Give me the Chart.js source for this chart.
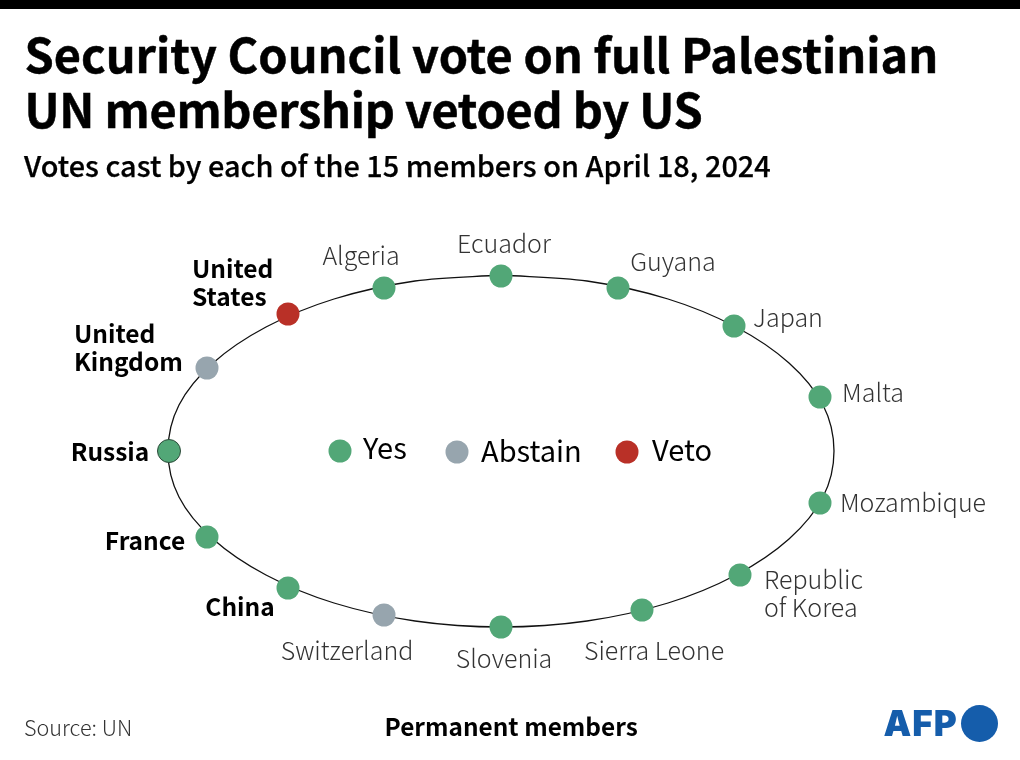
<!DOCTYPE html>
<html>
<head>
<meta charset="utf-8">
<script src="https://cdn.jsdelivr.net/npm/chart.js@4"></script>
<style>
html, body { margin: 0; padding: 0; background: #fff; }
body { width: 1020px; height: 760px; position: relative; overflow: hidden; font-family: "Noto Sans CJK JP", "Noto Sans", sans-serif; color: #000; }
#chart { position: absolute; left: 0; top: 0; }
.bar { position: absolute; left: 0; top: 0; width: 1020px; height: 9px; background: #000; }
.txt { position: absolute; white-space: nowrap; }
#title { left: 24.5px; top: 26px; font-size: 46.9px; line-height: 55px; font-weight: 700; -webkit-text-stroke: 0.5px #000; }
#title span { letter-spacing: -0.27px; }
#subtitle { left: 24px; top: 145px; font-size: 28.9px; line-height: 38px; font-weight: 500; -webkit-text-stroke: 0.25px #000; }
#source { left: 24px; top: 712px; font-size: 21.6px; line-height: 30px; font-weight: 300; color: #333; }
#note { left: 384.5px; top: 709px; font-size: 24.4px; line-height: 34px; font-weight: 700; }
#afp { left: 883.5px; top: 698px; font-family: "Inter", sans-serif; font-size: 35px; line-height: 50px; font-weight: 900; letter-spacing: 1px; color: #155dab; }
#afpDot { position: absolute; left: 961px; top: 705px; width: 37px; height: 37px; border-radius: 50%; background: #155dab; }
</style>
</head>
<body>
<canvas id="chart" width="1020" height="760"></canvas>
<div class="bar"></div>
<div class="txt" id="title">Security Council vote on full Palestinian<br><span>UN membership vetoed by US</span></div>
<div class="txt" id="subtitle">Votes cast by each of the 15 members on April 18, 2024</div>
<div class="txt" id="source">Source: UN</div>
<div class="txt" id="note">Permanent members</div>
<div class="txt" id="afp">AFP</div>
<div id="afpDot"></div>
<script>
// seats clockwise from the top, measured from the centre of the ring
const seatNames = ["Ecuador", "Guyana", "Japan", "Malta", "Mozambique", "Republic\nof Korea", "Sierra Leone", "Slovenia", "Switzerland", "China", "France", "Russia", "United\nKingdom", "United\nStates", "Algeria"];
const seatVotes = ["Yes", "Yes", "Yes", "Yes", "Yes", "Yes", "Yes", "Yes", "Abstain", "Yes", "Yes", "Yes", "Abstain", "Veto", "Yes"];
const seatX = [0, 117, 233, 319, 319, 239, 141, 0, -117, -213, -294, -332, -294, -213, -117];
const seatY = [175, 163, 125, 54, -52, -124, -159, -176, -164, -137, -86, 0, 83, 137, 163];
const permanentMembers = ["China", "France", "Russia", "United\nKingdom", "United\nStates"];

// outline of the ring, clockwise from the top
const ringX = [0, 86, 167, 235, 288, 322, 333, 322, 288, 235, 167, 86, 0, -86, -167, -235, -288, -322, -333, -322, -288, -235, -167, -86, 0];
const ringY = [176, 170, 152, 124, 88, 46, 0, -46, -88, -124, -152, -170, -176, -170, -152, -124, -88, -46, 0, 46, 88, 124, 152, 170, 176];

const voteNames = ["Yes", "Abstain", "Veto"];
const voteColors = ["#52a777", "#97a5ae", "#b93027"];
const keyX = [-161, -44, 126];
const keyY = [0, -1, -1];

// where each seat's name sits relative to its dot, in px
const labelPlacement = {
    "Ecuador": [3, -33, "center"],
    "Guyana": [55, -27, "center"],
    "Japan": [54, -9, "center"],
    "Malta": [53, -5, "center"],
    "Mozambique": [93, -1, "center"],
    "Republic\nof Korea": [24, 4, "left"],
    "Sierra Leone": [12, 40, "center"],
    "Slovenia": [3, 31, "center"],
    "Switzerland": [-37, 35, "center"],
    "China": [-48, 19, "center"],
    "France": [-62, 4, "center"],
    "Russia": [-59, 1, "center"],
    "United\nKingdom": [-133, -34, "left"],
    "United\nStates": [-96, -45, "left"],
    "Algeria": [-23, -33, "center"]
};
const keyLabelOffset = [[23, -3], [24, -1], [25, -2]];

const FONT = "\"Noto Sans CJK JP\", \"Noto Sans\", sans-serif";
const LINE_HEIGHT = 28;

const seatPoints = seatNames.map((name, i) => ({ x: seatX[i], y: seatY[i], name, vote: seatVotes[i] }));

const textPlugin = {
    id: "seatText",
    afterDatasetsDraw(chart) {
        const { ctx, scales } = chart;
        ctx.save();
        ctx.textBaseline = "middle";
        seatPoints.forEach((seat) => {
            const [dx, dy, align] = labelPlacement[seat.name];
            const permanent = permanentMembers.includes(seat.name);
            ctx.font = (permanent ? "700 24.5px " : "300 25px ") + FONT;
            ctx.fillStyle = permanent ? "#000" : "#333";
            ctx.textAlign = align;
            seat.name.split("\n").forEach((line, l) => {
                ctx.fillText(line, scales.x.getPixelForValue(seat.x) + dx, scales.y.getPixelForValue(seat.y) + dy + l * LINE_HEIGHT);
            });
        });
        ctx.font = "400 29px " + FONT;
        ctx.fillStyle = "#000";
        ctx.textAlign = "left";
        voteNames.forEach((name, i) => {
            const [dx, dy] = keyLabelOffset[i];
            ctx.fillText(name, scales.x.getPixelForValue(keyX[i]) + dx, scales.y.getPixelForValue(keyY[i]) + dy);
        });
        ctx.restore();
    }
};

const voteDatasets = voteNames.map((vote, i) => ({
    label: vote,
    data: seatPoints.filter((seat) => seat.vote === vote),
    backgroundColor: voteColors[i],
    borderColor: (context) => (context.raw && context.raw.name === "Russia" ? "#2d4a3a" : voteColors[i]),
    borderWidth: (context) => (context.raw && context.raw.name === "Russia" ? 1 : 0),
    pointRadius: 11.5,
    order: 1
}));

new Chart(document.getElementById("chart"), {
    type: "scatter",
    data: {
        datasets: [
            {
                label: "ring",
                data: ringX.map((x, i) => ({ x, y: ringY[i] })),
                showLine: true,
                tension: 0.33,
                borderColor: "#111",
                borderWidth: 1.3,
                pointRadius: 0,
                order: 2
            },
            ...voteDatasets,
            {
                label: "key",
                data: keyX.map((x, i) => ({ x, y: keyY[i] })),
                backgroundColor: voteColors,
                borderWidth: 0,
                pointRadius: 11.5,
                order: 1
            }
        ]
    },
    options: {
        responsive: false,
        animation: false,
        layout: { padding: 0, autoPadding: false },
        scales: {
            x: { type: "linear", display: false, min: -501, max: 519 },
            y: { type: "linear", display: false, min: -309, max: 451 }
        },
        plugins: { legend: { display: false }, tooltip: { enabled: false } }
    },
    plugins: [textPlugin]
});
</script>
</body>
</html>
